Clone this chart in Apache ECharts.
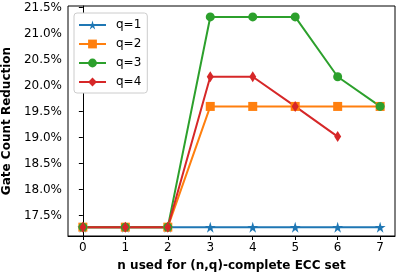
<!DOCTYPE html>
<html><head><meta charset="utf-8">
<script src="https://cdn.jsdelivr.net/npm/echarts@6/dist/echarts.min.js"></script>
<style>html,body{margin:0;padding:0;background:#fff}#c{width:399px;height:276px}</style>
</head><body><div id="c"></div>
<script>
const nValues = [0, 1, 2, 3, 4, 5, 6, 7];
const q1 = [17.28, 17.28, 17.28, 17.28, 17.28, 17.28, 17.28, 17.28];
const q2 = [17.28, 17.28, 17.28, 19.60, 19.60, 19.60, 19.60, 19.60];
const q3 = [17.28, 17.28, 17.28, 21.32, 21.32, 21.32, 20.17, 19.60];
const q4 = [17.28, 17.28, 17.28, 20.17, 20.17, 19.60, 19.02];
const yTicks = [17.5, 18.0, 18.5, 19.0, 19.5, 20.0, 20.5, 21.0, 21.5];
const xTicks = [0, 1, 2, 3, 4, 5, 6, 7];
const seriesNames = ['q=1', 'q=2', 'q=3', 'q=4'];

const FONT = 'DejaVu Sans';
const STAR = 'path://M50,0 L61,35 L98,35 L68,57 L79,91 L50,70 L21,91 L32,57 L2,35 L39,35 Z';
const pair = arr => arr.map((v, i) => [nValues[i], v]);

const chart = echarts.init(document.getElementById('c'), null, {renderer: 'canvas'});
const mk = (name, data, color, symbol, size) => ({
  name, type: 'line', data: pair(data), color,
  symbol, symbolSize: size, showAllSymbol: true,
  lineStyle: {width: 2, color}, itemStyle: {color},
  emphasis: {disabled: true}, animation: false, z: 2
});
chart.setOption({
  animation: false,
  textStyle: {fontFamily: FONT},
  grid: {left: 68, right: 4, top: 6, bottom: 40, show: true, borderColor: '#000', borderWidth: 1,
    containLabel: false, outerBoundsMode: 'none'},
  legend: {
    data: seriesNames, orient: 'vertical', left: 74, top: 13,
    backgroundColor: '#fff', borderColor: '#ccc', borderWidth: 1, borderRadius: 3,
    padding: [6, 6, 5, 4], itemGap: 7, itemWidth: 27, itemHeight: 11,
    textStyle: {fontFamily: FONT, fontSize: 12, color: '#000', padding: [0, 0, 0, 5]}
  },
  xAxis: {
    type: 'value', min: -0.35, max: 7.35,
    name: 'n used for (n,q)-complete ECC set', nameLocation: 'middle', nameGap: 24,
    nameTextStyle: {fontFamily: FONT, fontSize: 12, fontWeight: 'bold', color: '#000'},
    axisLine: {show: true, lineStyle: {color: '#000', width: 1}},
    axisTick: {show: true, length: 4, lineStyle: {color: '#000'}, customValues: xTicks},
    axisLabel: {fontFamily: FONT, fontSize: 12, color: '#000', margin: 6, customValues: xTicks},
    splitLine: {show: false}
  },
  yAxis: {
    type: 'value', min: 17.11, max: 21.53,
    name: 'Gate Count Reduction', nameLocation: 'middle', nameGap: 47, nameRotate: 90,
    nameTextStyle: {fontFamily: FONT, fontSize: 12, fontWeight: 'bold', color: '#000'},
    axisLine: {show: true, lineStyle: {color: '#000', width: 1}},
    axisTick: {show: true, length: 4, lineStyle: {color: '#000'}, customValues: yTicks},
    axisLabel: {fontFamily: FONT, fontSize: 12, color: '#000', margin: 6, customValues: yTicks,
      formatter: v => v.toFixed(1) + '%'},
    splitLine: {show: false}
  },
  series: [
    mk('q=1', q1, '#1f77b4', STAR, 11),
    mk('q=2', q2, '#ff7f0e', 'rect', 9),
    mk('q=3', q3, '#2ca02c', 'circle', 9),
    mk('q=4', q4, '#d62728', 'diamond', [7, 11])
  ]
});
</script></body></html>
